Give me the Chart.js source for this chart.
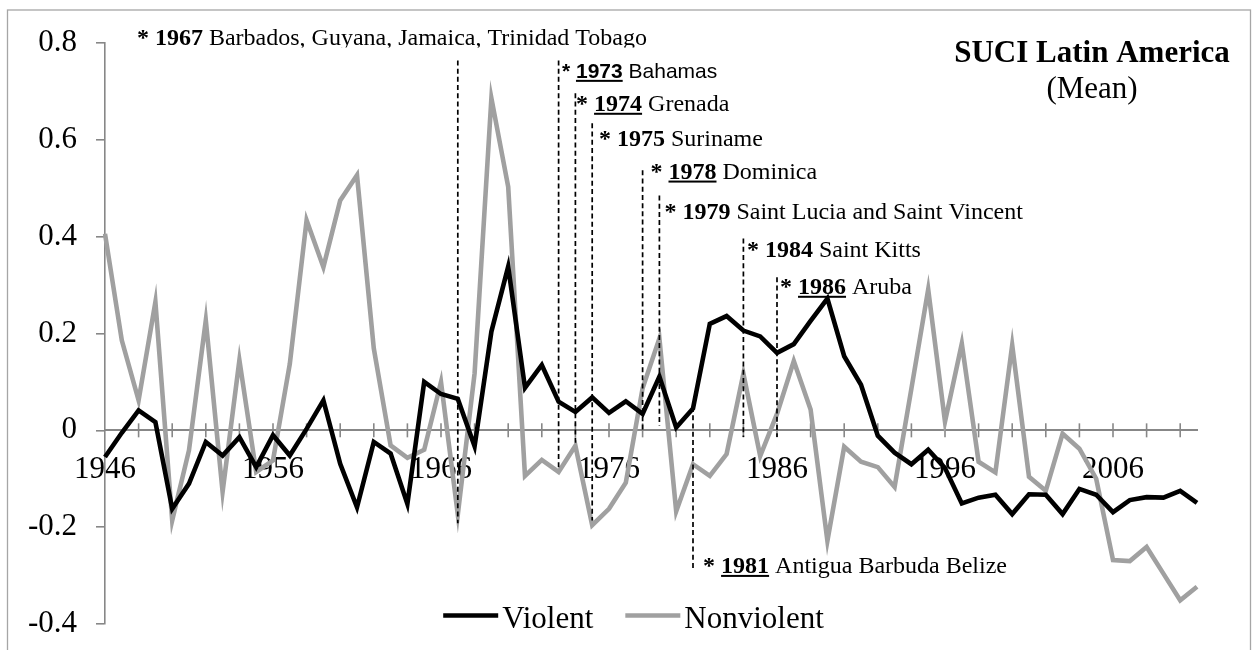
<!DOCTYPE html>
<html><head><meta charset="utf-8">
<script src="https://cdn.jsdelivr.net/npm/chart.js@4.4.1/dist/chart.umd.min.js"></script>
<style>html,body{margin:0;padding:0;background:#fff;}#wrap{width:1252px;height:650px;}</style>
</head><body><div id="wrap"><canvas id="c" width="1252" height="650"></canvas></div>
<script>
// ---------------- data ----------------
const years = ['1946','1947','1948','1949','1950','1951','1952','1953','1954','1955',
  '1956','1957','1958','1959','1960','1961','1962','1963','1964','1965',
  '1966','1967','1968','1969','1970','1971','1972','1973','1974','1975',
  '1976','1977','1978','1979','1980','1981','1982','1983','1984','1985',
  '1986','1987','1988','1989','1990','1991','1992','1993','1994','1995',
  '1996','1997','1998','1999','2000','2001','2002','2003','2004','2005',
  '2006','2007','2008','2009','2010','2011'];
const violent = [-0.055,-0.005,0.041,0.017,-0.162,-0.110,-0.024,-0.052,-0.014,-0.076,
  -0.010,-0.052,0.003,0.062,-0.069,-0.159,-0.024,-0.048,-0.152,0.100,
  0.075,0.065,-0.033,0.204,0.338,0.088,0.135,0.059,0.038,0.068,
  0.036,0.060,0.034,0.111,0.006,0.045,0.220,0.236,0.206,0.194,
  0.160,0.178,0.226,0.272,0.153,0.094,-0.011,-0.046,-0.070,-0.040,
  -0.078,-0.151,-0.139,-0.133,-0.173,-0.132,-0.133,-0.173,-0.121,-0.133,
  -0.169,-0.144,-0.138,-0.139,-0.125,-0.150];
const nonviolent = [0.406,0.186,0.062,0.265,-0.186,-0.041,0.227,-0.127,0.145,-0.086,
  -0.062,0.137,0.434,0.337,0.475,0.527,0.169,-0.031,-0.057,-0.040,
  0.100,-0.174,0.118,0.686,0.503,-0.094,-0.061,-0.086,-0.032,-0.196,
  -0.162,-0.108,0.087,0.190,-0.167,-0.070,-0.094,-0.049,0.117,-0.053,
  0.034,0.143,0.043,-0.228,-0.034,-0.065,-0.076,-0.117,0.086,0.291,
  0.018,0.179,-0.065,-0.087,0.176,-0.096,-0.125,-0.007,-0.038,-0.100,
  -0.268,-0.270,-0.241,-0.296,-0.351,-0.323];
const seriesNames = ['Violent','Nonviolent'];
const xTickLabels = ['1946','1956','1966','1976','1986','1996','2006'];
const yMin = -0.4, yMax = 0.8, yStep = 0.2;
const titleMain = 'SUCI Latin America';
const titleSub = '(Mean)';

// annotations (independence years)
const annoYears = ['1967','1973','1974','1975','1978','1979','1981','1984','1986'];
const annoNames = ['Barbados, Guyana, Jamaica, Trinidad Tobago','Bahamas','Grenada','Suriname',
  'Dominica','Saint Lucia and Saint Vincent','Antigua Barbuda Belize','Saint Kitts','Aruba'];
const annoLineTop = [0.764,0.764,0.696,0.634,0.537,0.485,0.048,0.396,0.316];
const annoLineBottom = [-0.192,-0.076,-0.027,-0.186,0.000,0.010,-0.285,-0.014,-0.014];
const annoTextYear = [1947.90,1973.20,1974.04,1975.40,1978.47,1979.30,1981.60,1984.21,1986.18];
const annoTextValue = [0.795,0.728,0.660,0.587,0.520,0.437,-0.2945,0.358,0.282];

// ---------------- styles ----------------
const SERIF = '"Liberation Serif","Times New Roman",serif';
const SANS = '"Liberation Sans",Arial,sans-serif';
const AXIS_GRAY = '#878787';
const annoStyle = [
  {family: SERIF, size: 24, underline: false, clip: 2},
  {family: SANS, size: 21, underline: true},
  {family: SERIF, size: 24, underline: true},
  {family: SERIF, size: 24, underline: false},
  {family: SERIF, size: 24, underline: true},
  {family: SERIF, size: 24, underline: false},
  {family: SERIF, size: 24, underline: true},
  {family: SERIF, size: 24, underline: false},
  {family: SERIF, size: 24, underline: true}
];

const framePlugin = {
  id: 'frame',
  beforeDraw(chart) {
    const c = chart.ctx;
    c.save();
    c.fillStyle = '#fff';
    c.fillRect(0, 0, chart.width, chart.height);
    c.strokeStyle = '#a6a6a6';
    c.lineWidth = 1.3;
    c.strokeRect(7.5, 10, 1243, 700);
    c.restore();
  }
};

const tickPlugin = {
  id: 'crossTicks',
  beforeDatasetsDraw(chart) {
    const c = chart.ctx, xs = chart.scales.x, ys = chart.scales.y;
    const y0 = ys.getPixelForValue(0);
    c.save();
    c.strokeStyle = AXIS_GRAY;
    c.lineWidth = 1.6;
    for (let i = 2; i < years.length; i += 2) {
      const x = xs.getPixelForValue(i);
      c.beginPath();
      c.moveTo(x, y0 - 7);
      c.lineTo(x, y0 + 7);
      c.stroke();
    }
    c.restore();
  }
};

const annoPlugin = {
  id: 'annos',
  afterDatasetsDraw(chart) {
    const c = chart.ctx, xs = chart.scales.x, ys = chart.scales.y;
    const base = Number(years[0]);
    annoYears.forEach((yr, i) => {
      const x = xs.getPixelForValue(Number(yr) - base);
      c.save();
      c.strokeStyle = '#000';
      c.lineWidth = 1.7;
      c.setLineDash([5, 3.2]);
      c.beginPath();
      c.moveTo(x, ys.getPixelForValue(annoLineTop[i]));
      c.lineTo(x, ys.getPixelForValue(annoLineBottom[i]));
      c.stroke();
      c.restore();

      const st = annoStyle[i];
      let tx = xs.getPixelForValue(annoTextYear[i] - base);
      const ty = ys.getPixelForValue(annoTextValue[i]);
      c.save();
      if (st.clip !== undefined) {
        c.beginPath();
        c.rect(0, 0, chart.width, ty + st.clip);
        c.clip();
      }
      c.fillStyle = '#000';
      c.textAlign = 'left';
      c.textBaseline = 'alphabetic';
      c.font = 'bold ' + st.size + 'px ' + st.family;
      c.fillText('* ', tx, ty);
      tx += c.measureText('* ').width;
      c.fillText(yr, tx, ty);
      const w = c.measureText(yr).width;
      if (st.underline) c.fillRect(tx, ty + 2, w, 2);
      tx += w;
      c.font = st.size + 'px ' + st.family;
      c.fillText(' ' + annoNames[i], tx, ty);
      c.restore();
    });
  }
};

const titlePlugin = {
  id: 'cornerTitle',
  afterDraw(chart) {
    const c = chart.ctx;
    c.save();
    c.fillStyle = '#000';
    c.textAlign = 'center';
    c.textBaseline = 'alphabetic';
    c.font = 'bold 31px ' + SERIF;
    c.fillText(titleMain, 1092, 62);
    c.font = '31px ' + SERIF;
    c.fillText(titleSub, 1092, 98);
    c.restore();
  }
};

const legendPlugin = {
  id: 'bottomLegend',
  afterDraw(chart) {
    const c = chart.ctx;
    const ds = chart.data.datasets;
    const lineW = 55, gapText = 4, gapItem = 32, lineY = 615.5, textY = 628;
    c.save();
    c.font = '31px ' + SERIF;
    let total = 0;
    ds.forEach((d, i) => {
      total += lineW + gapText + c.measureText(d.label).width;
      if (i < ds.length - 1) total += gapItem;
    });
    let x = 633.5 - total / 2;
    ds.forEach((d) => {
      c.strokeStyle = d.borderColor;
      c.lineWidth = d.borderWidth;
      c.beginPath();
      c.moveTo(x, lineY);
      c.lineTo(x + lineW, lineY);
      c.stroke();
      x += lineW + gapText;
      c.fillStyle = '#000';
      c.textAlign = 'left';
      c.textBaseline = 'alphabetic';
      c.fillText(d.label, x, textY);
      x += c.measureText(d.label).width + gapItem;
    });
    c.restore();
  }
};

new Chart(document.getElementById('c'), {
  type: 'line',
  data: {
    labels: years,
    datasets: [
      {label: seriesNames[0], data: violent, borderColor: '#000000', backgroundColor: '#000000',
       borderWidth: 4.6, pointRadius: 0, tension: 0, fill: false},
      {label: seriesNames[1], data: nonviolent, borderColor: '#a0a0a0', backgroundColor: '#a0a0a0',
       borderWidth: 4.6, pointRadius: 0, tension: 0, fill: false}
    ]
  },
  options: {
    responsive: false,
    animation: false,
    devicePixelRatio: 1,
    events: [],
    layout: {padding: {left: 0, top: 43, right: 55, bottom: 26}},
    plugins: {legend: {display: false}, tooltip: {enabled: false}, title: {display: false}},
    scales: {
      x: {
        type: 'category',
        position: {y: 0},
        offset: false,
        grid: {display: false, drawTicks: false},
        border: {display: true, color: AXIS_GRAY, width: 2},
        ticks: {
          autoSkip: false, maxRotation: 0, minRotation: 0, padding: 21,
          color: '#000', font: {family: SERIF, size: 31},
          callback: (v, i) => xTickLabels.includes(years[i]) ? years[i] : ''
        },
        afterFit: s => { s.paddingLeft = 0; s.paddingRight = 0; s.paddingTop = 0; s.paddingBottom = 0; }
      },
      y: {
        type: 'linear',
        min: yMin, max: yMax,
        grid: {drawOnChartArea: false, drawTicks: true, tickLength: 9, color: AXIS_GRAY, lineWidth: 1.6},
        border: {display: true, color: AXIS_GRAY, width: 1.6},
        ticks: {
          stepSize: yStep, padding: 19, color: '#000', font: {family: SERIF, size: 31},
          callback: v => { const r = Math.round(v * 10) / 10; return r === 0 ? '0' : String(r); }
        },
        afterFit: s => { s.width = 105; s.paddingTop = 0; s.paddingBottom = 0; }
      }
    }
  },
  plugins: [framePlugin, tickPlugin, annoPlugin, titlePlugin, legendPlugin]
});
</script>
</body></html>
